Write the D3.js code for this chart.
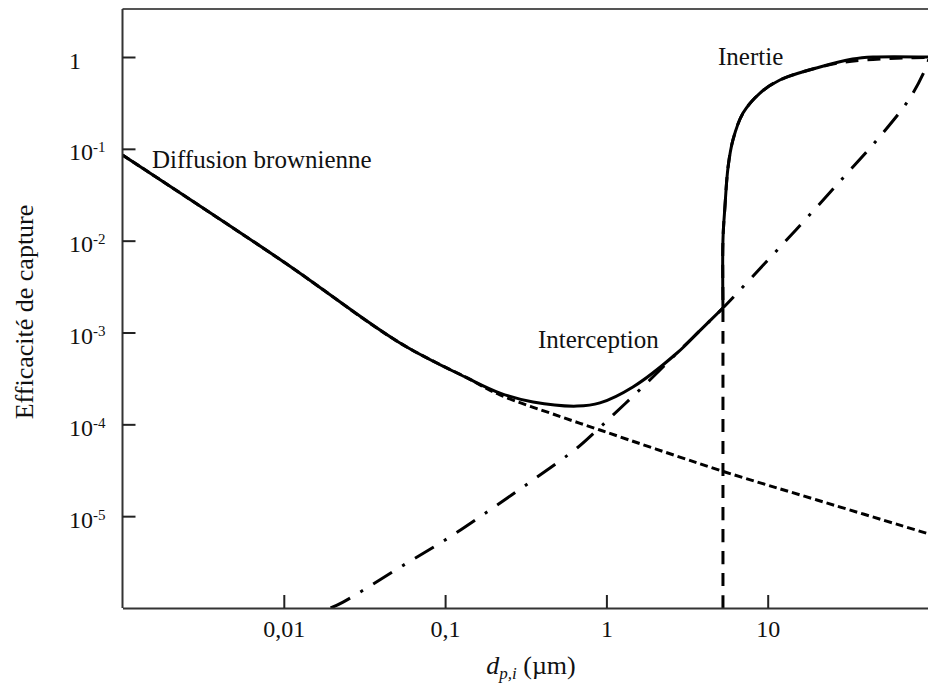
<!DOCTYPE html>
<html>
<head>
<meta charset="utf-8">
<script src="https://cdn.jsdelivr.net/npm/d3@7/dist/d3.min.js"></script>
<style>
body { margin: 0; background: #fff; }
text { font-family: "Liberation Serif", "DejaVu Serif", serif; fill: #111; }
</style>
</head>
<body>
<div id="chart"></div>
<script>
// tick values
var xTicks = [0.01, 0.1, 1, 10];
var yTicks = [1, 1e-1, 1e-2, 1e-3, 1e-4, 1e-5];
var yExp = ["", "-1", "-2", "-3", "-4", "-5"];

// diffusion brownienne (dashed)
var diffD = [0.001, 0.01, 0.0525, 0.137, 0.219, 0.508, 0.912, 2.03, 5.43, 20.2, 100];
var diffE = [0.0857, 0.00586, 7.69e-4, 3.2e-4, 2.09e-4, 1.23e-4, 8.67e-5, 5.38e-5, 3.03e-5, 1.5e-5, 6.4e-6];

// interception (dash-dot)
var intD = [0.0195, 0.0233, 0.0581, 0.107, 0.198, 0.351, 0.658, 0.875, 1.86, 2.74, 3.8, 5.28, 10.3, 17.5, 29.3, 47.6, 76.2, 97.2, 100];
var intE = [1e-6, 1.16e-6, 3.09e-6, 5.93e-6, 1.23e-5, 2.48e-5, 5.53e-5, 8.67e-5, 3.04e-4, 5.98e-4, 1.05e-3, 1.85e-3, 6.47e-3, 0.0177, 0.0482, 0.125, 0.358, 0.818, 0.97];

// inertie (dashed)
var inerD = [5.28, 5.28, 5.28, 5.43, 5.68, 6.09, 7.03, 8.96, 11.9, 21.1, 30, 45, 70, 100];
var inerE = [1e-6, 1.85e-3, 0.0102, 0.0233, 0.0634, 0.125, 0.245, 0.405, 0.562, 0.778, 0.88, 0.94, 0.975, 0.99];

// total efficiency (solid): lower branch, then the jump and upper branch
var totLowD = [0.001, 0.01, 0.0525, 0.137, 0.219, 0.351, 0.658, 0.912, 1.46, 2.74, 3.8, 5.28];
var totLowE = [0.0857, 0.00586, 7.69e-4, 3.2e-4, 2.19e-4, 1.75e-4, 1.58e-4, 1.71e-4, 2.55e-4, 5.98e-4, 1.05e-3, 1.85e-3];
var totHighD = [5.28, 5.28, 5.43, 5.68, 6.09, 7.03, 8.96, 11.9, 21.1, 33.6, 45, 100];
var totHighE = [1.85e-3, 0.0102, 0.0233, 0.0634, 0.125, 0.245, 0.405, 0.562, 0.778, 0.95, 1.0, 1.0];

var width = 928, height = 685;
var plotLeft = 122.5, plotRight = 929, plotTop = 9, plotBottom = 608;

var svg = d3.select("#chart").append("svg")
    .attr("width", width).attr("height", height);

var x = d3.scaleLog().domain([0.001, 100]).range([plotLeft, plotRight]);
var y = d3.scaleLog().domain([1e-6, 1]).range([plotBottom, 57]);

svg.append("clipPath").attr("id", "clip")
  .append("rect")
    .attr("x", plotLeft).attr("y", plotTop)
    .attr("width", plotRight - plotLeft).attr("height", plotBottom - plotTop);

var line = d3.line()
    .x(function(d) { return x(d[0]); })
    .y(function(d) { return y(d[1]); })
    .curve(d3.curveCatmullRom.alpha(0.5));

var curves = svg.append("g").attr("clip-path", "url(#clip)")
    .attr("fill", "none").attr("stroke", "#000").attr("stroke-width", 3);

curves.append("path").attr("d", line(d3.zip(diffD, diffE)))
    .attr("stroke-dasharray", "8,4");
curves.append("path").attr("d", line(d3.zip(intD, intE)))
    .attr("stroke-dasharray", "22,12,3,12");
curves.append("path").attr("d", line(d3.zip(inerD, inerE)))
    .attr("stroke-dasharray", "13,9");
curves.append("path").attr("d", line(d3.zip(totLowD, totLowE)));
curves.append("path").attr("d", line(d3.zip(totHighD, totHighE)));

// frame top
svg.append("line")
    .attr("x1", plotLeft).attr("x2", width)
    .attr("y1", plotTop).attr("y2", plotTop)
    .attr("stroke", "#555").attr("stroke-width", 2);

var xAxis = svg.append("g")
    .attr("transform", "translate(0," + plotBottom + ")")
    .call(d3.axisBottom(x).tickValues(xTicks).tickSize(-13).tickSizeOuter(0)
      .tickFormat(function(d) { return String(d).replace(".", ","); }));
xAxis.select(".domain").attr("stroke", "#333").attr("stroke-width", 2);
xAxis.selectAll(".tick line").attr("stroke", "#222").attr("stroke-width", 2);
xAxis.selectAll(".tick text")
    .attr("y", 29).attr("dy", 0)
    .attr("font-family", null).attr("font-size", 24).attr("fill", "#111");

var yAxis = svg.append("g")
    .attr("transform", "translate(" + plotLeft + ",0)")
    .call(d3.axisLeft(y).tickValues(yTicks).tickSize(-13).tickSizeOuter(0)
      .tickFormat(""));
yAxis.select(".domain").attr("stroke", "#333").attr("stroke-width", 2)
    .attr("d", "M0," + plotTop + "V" + plotBottom);
yAxis.selectAll(".tick line").attr("stroke", "#222").attr("stroke-width", 2);
yAxis.selectAll(".tick text").each(function(d, k) {
  var t = d3.select(this)
      .attr("x", -53.5).attr("y", 11).attr("dy", 0)
      .attr("text-anchor", "start")
      .attr("font-family", null).attr("font-size", 24).attr("fill", "#111");
  if (yExp[k] === "") {
    t.text("1");
  } else {
    t.append("tspan").text("10");
    t.append("tspan").attr("dy", -8).attr("font-size", 15).text(yExp[k]);
  }
});

// axis titles
var xt = svg.append("text")
    .attr("x", 531).attr("y", 674)
    .attr("text-anchor", "middle").attr("font-size", 26);
xt.append("tspan").attr("font-style", "italic").text("d");
xt.append("tspan").attr("font-style", "italic").attr("font-size", 17)
    .attr("dy", 5).text("p,i");
xt.append("tspan").attr("dy", -5).text(" (µm)");

svg.append("text")
    .attr("transform", "translate(33,312) rotate(-90)")
    .attr("text-anchor", "middle").attr("font-size", 26)
    .text("Efficacité de capture");

// curve labels
svg.append("text").attr("x", 152).attr("y", 168).attr("font-size", 25)
    .text("Diffusion brownienne");
svg.append("text").attr("x", 538).attr("y", 348).attr("font-size", 25)
    .text("Interception");
svg.append("text").attr("x", 718).attr("y", 65).attr("font-size", 25)
    .text("Inertie");
</script>
</body>
</html>
